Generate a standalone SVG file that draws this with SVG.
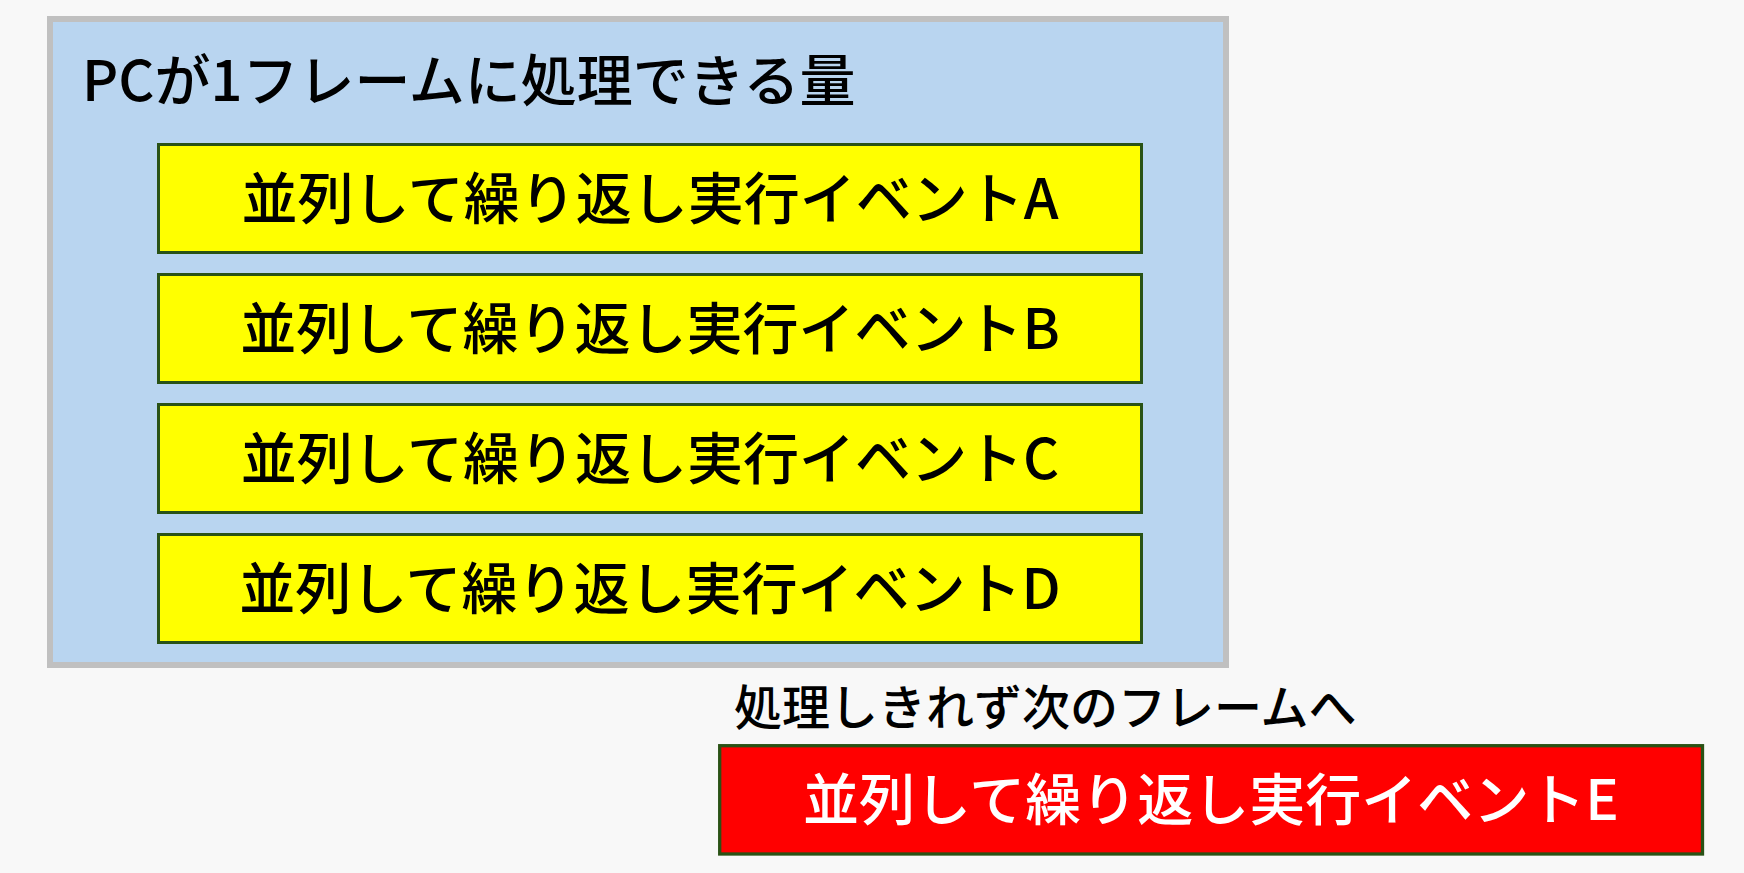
<svg xmlns="http://www.w3.org/2000/svg" width="1744" height="873" viewBox="0 0 1744 873">
  <style>
    text { font-family: "Noto Sans CJK JP", "Noto Sans", sans-serif; font-weight: 500; }
    .evt { fill: #ffff00; stroke: #2a5215; stroke-width: 3; }
    .evt-red { fill: #ff0000; stroke: #2a5215; stroke-width: 3.3; }
    .lbl { font-size: 56px; fill: #000000; text-anchor: middle; }
    .lbl-w { font-size: 56px; fill: #ffffff; text-anchor: middle; }
  </style>
  <rect x="0" y="0" width="1744" height="873" fill="#f8f8f8"/>
  <g id="frame">
    <rect x="50" y="19" width="1176" height="646" fill="#b9d5f0" stroke="#c0c0c0" stroke-width="6"/>
    <text x="82" y="100.5" font-size="56" fill="#000000">PCが1フレームに処理できる量</text>
  </g>
  <g id="eventA">
    <rect class="evt" x="158.5" y="144.5" width="983" height="108"/>
    <text class="lbl" x="650" y="218.5">並列して繰り返し実行イベントA</text>
  </g>
  <g id="eventB">
    <rect class="evt" x="158.5" y="274.5" width="983" height="108"/>
    <text class="lbl" x="650" y="348.5">並列して繰り返し実行イベントB</text>
  </g>
  <g id="eventC">
    <rect class="evt" x="158.5" y="404.5" width="983" height="108"/>
    <text class="lbl" x="650" y="478.5">並列して繰り返し実行イベントC</text>
  </g>
  <g id="eventD">
    <rect class="evt" x="158.5" y="534.5" width="983" height="108"/>
    <text class="lbl" x="650" y="608.5">並列して繰り返し実行イベントD</text>
  </g>
  <g id="caption">
    <text x="734" y="724.5" font-size="48" fill="#000000">処理しきれず次のフレームへ</text>
  </g>
  <g id="eventE">
    <rect class="evt-red" x="719.7" y="745.7" width="982.8" height="108.3"/>
    <text class="lbl-w" x="1211" y="820">並列して繰り返し実行イベントE</text>
  </g>
  <g id="connectors"></g>
</svg>
